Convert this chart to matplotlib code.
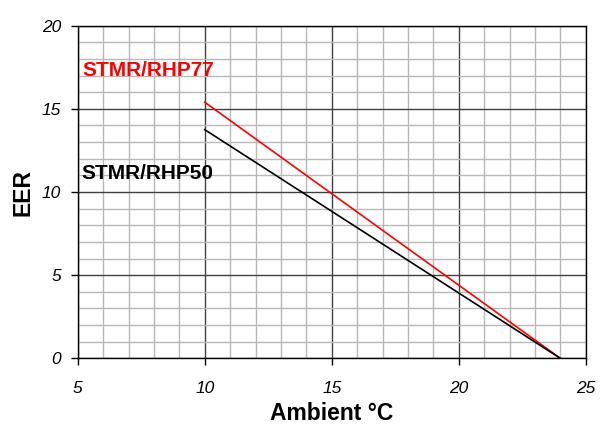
import matplotlib.pyplot as plt
from matplotlib.ticker import MultipleLocator

plt.rcParams['font.family'] = ['Liberation Sans', 'DejaVu Sans']

# EER against ambient temperature, two models
ambient = [10, 24]
eer_rhp77 = [15.4, 0]
eer_rhp50 = [13.75, 0]

fig = plt.figure(figsize=(6.12, 4.26), dpi=100)
ax = fig.add_axes([77.7 / 612, 1 - 358.3 / 426, 508 / 612, 332.6 / 426])

ax.plot(ambient, eer_rhp77, color='#ff0000', lw=1.2, zorder=3)
ax.plot(ambient, eer_rhp50, color='black', lw=1.2, zorder=3)

ax.set_xlim(5, 25)
ax.set_ylim(0, 20)
ax.xaxis.set_major_locator(MultipleLocator(5))
ax.yaxis.set_major_locator(MultipleLocator(5))
ax.xaxis.set_minor_locator(MultipleLocator(1))
ax.yaxis.set_minor_locator(MultipleLocator(1))
ax.grid(which='minor', color='#b8b8b8', lw=1.0, zorder=0)
ax.grid(which='major', color='#404040', lw=1.0, zorder=1)
ax.set_axisbelow(True)

for s in ax.spines.values():
    s.set_linewidth(1.0)
    s.set_color('black')

ax.tick_params(which='major', length=5, width=1, direction='out')
ax.tick_params(which='minor', length=0)
ax.tick_params(axis='x', pad=11)
ax.tick_params(axis='y', pad=7)
for lab in ax.get_xticklabels() + ax.get_yticklabels():
    lab.set_fontstyle('italic')
    lab.set_fontsize(12.5)

ax.set_xlabel('Ambient °C', fontsize=16.5, fontweight='bold', labelpad=5)
ax.set_ylabel('EER', fontsize=16.5, fontweight='bold', labelpad=5.5)

ax.text(5.2, 17.3, 'STMR/RHP77', color='#ff0000', fontsize=15,
        fontweight='bold', va='center', ha='left')
ax.text(5.15, 11.1, 'STMR/RHP50', color='black', fontsize=15,
        fontweight='bold', va='center', ha='left')

fig.savefig('out.png', dpi=100)
